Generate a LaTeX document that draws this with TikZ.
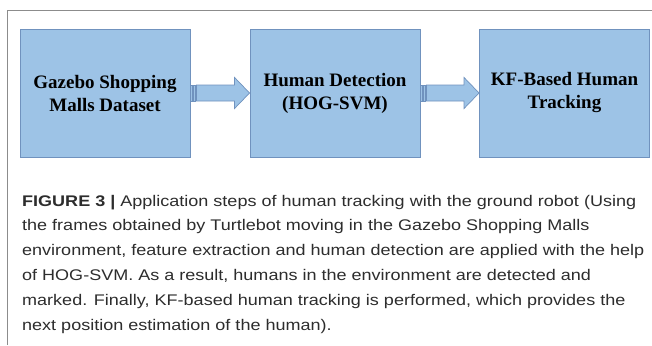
\documentclass[tikz,border=0pt]{standalone}
\usepackage{fontspec}
\setmainfont{Liberation Serif}
\newfontfamily\capfont[FakeStretch=1.17]{Liberation Sans}
\usetikzlibrary{calc}
\definecolor{boxfill}{RGB}{157,195,230}
\definecolor{boxline}{RGB}{112,146,190}
\definecolor{framegray}{RGB}{140,140,140}
\definecolor{captext}{RGB}{45,45,45}
\begin{document}
\begin{tikzpicture}[x=1pt,y=-1pt,
  stepbox/.style={draw=boxline,fill=boxfill,line width=0.9pt,minimum width=170pt,minimum height=128pt,
    inner sep=0pt,align=center,font=\fontsize{19}{23}\selectfont\bfseries,text=black},
  blockarrow/.style={draw=boxline,fill=boxfill,line width=0.7pt,line join=miter},
  capline/.style={anchor=base west,inner sep=0pt,font=\capfont\fontsize{15.4}{18}\selectfont,text=captext}]
\useasboundingbox (0,0) rectangle (652,345);
\fill[white] (0,0) rectangle (652,345);
\draw[framegray,line width=1.5pt] (7.5,345) -- (7.5,10.5) -- (652,10.5);
\node[stepbox] (a) at (105,93) {Gazebo Shopping\\Malls Dataset};
\node[stepbox] (b) at (335,93) {Human Detection\\(HOG-SVM)};
\node[stepbox] (c) at (564.5,93) {KF-Based Human\\Tracking};
\foreach \p/\q in {a/b,b/c}{
  \draw[blockarrow] ($(\p.east)+(0,-8)$) rectangle ($(\p.east)+(1.6,8)$);
  \draw[blockarrow] ($(\p.east)+(2.8,-8)$) rectangle ($(\p.east)+(4.4,8)$);
  \draw[blockarrow] ($(\p.east)+(6,-8)$) -- ($(\q.west)+(-15,-8)$) -- ($(\q.west)+(-15,-15.5)$)
     -- (\q.west) -- ($(\q.west)+(-15,15.5)$) -- ($(\q.west)+(-15,8)$) -- ($(\p.east)+(6,8)$) -- cycle;
}
\node[capline] (l1) at (22,206) {\textbf{FIGURE 3 |} Application steps of human tracking with the ground robot (Using};
\node[capline] (l2) at (22,230.8) {the frames obtained by Turtlebot moving in the Gazebo Shopping Malls};
\node[capline] (l3) at (22,255.6) {environment, feature extraction and human detection are applied with the help};
\node[capline] (l4) at (22,280.4) {of HOG-SVM. As a result, humans in the environment are detected and};
\node[capline] (l5) at (22,305.2) {marked. Finally, KF-based human tracking is performed, which provides the};
\node[capline] (l6) at (22,330) {next position estimation of the human).};
\end{tikzpicture}
\end{document}
